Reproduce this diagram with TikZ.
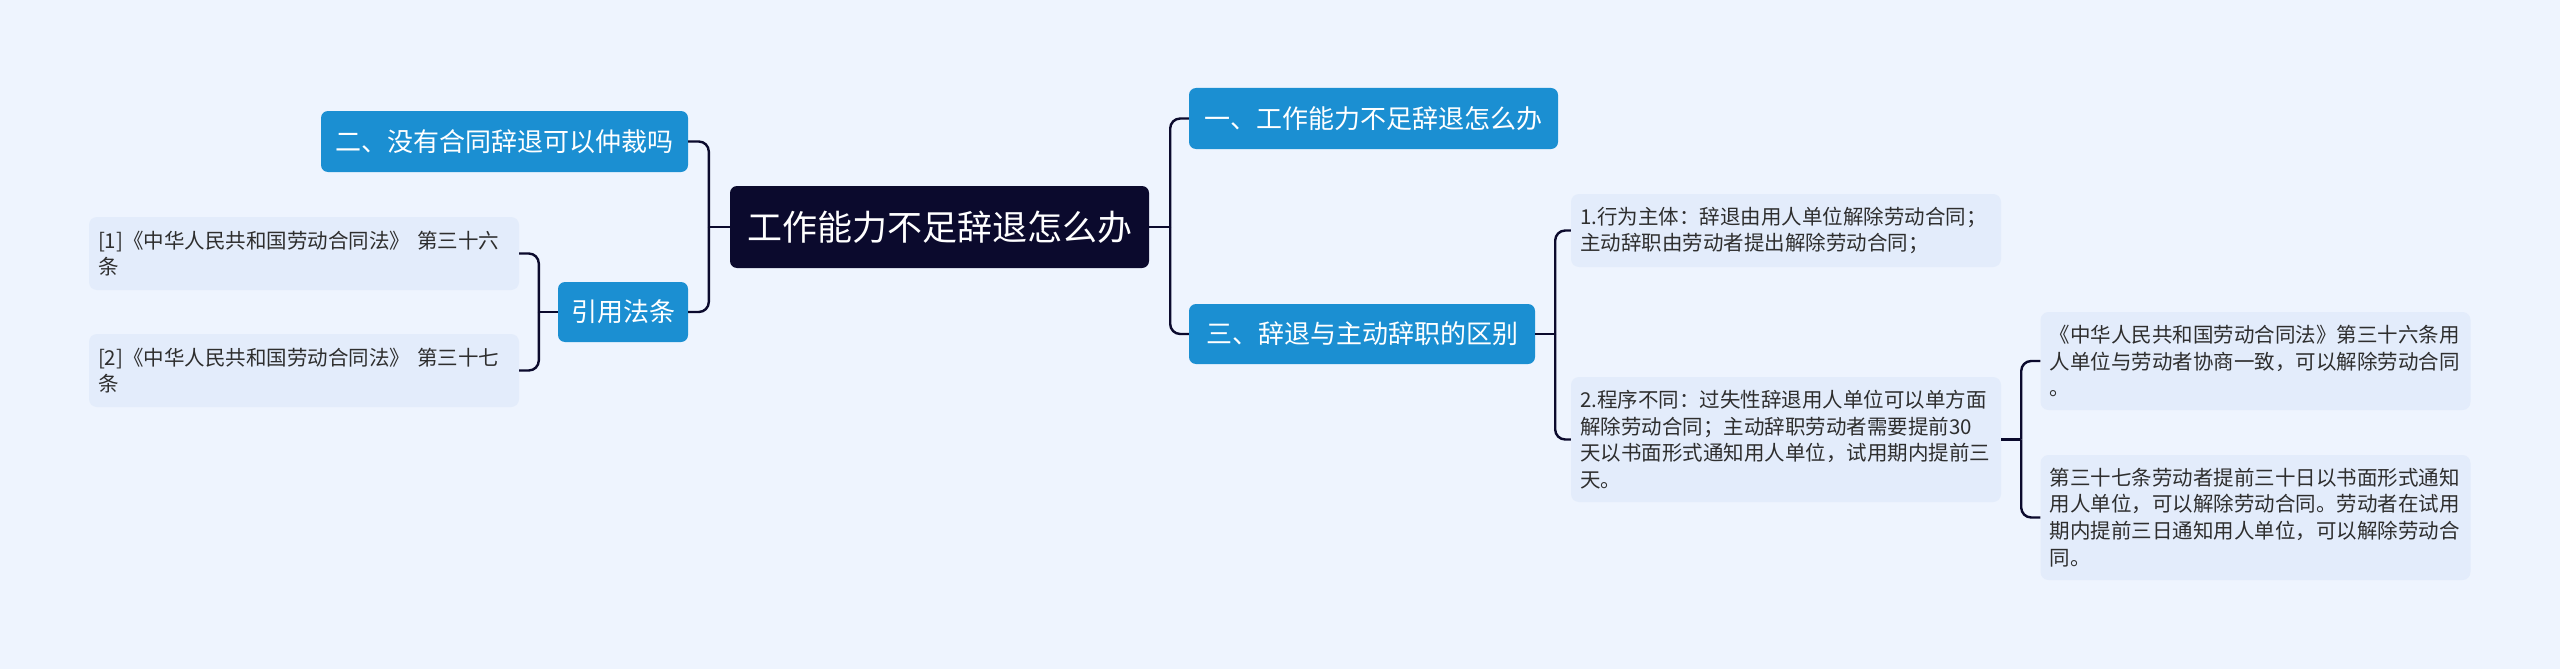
\documentclass[tikz,border=0pt]{standalone}
\usepackage{fontspec}
\setmainfont{Noto Sans CJK SC}
\definecolor{bgc}{HTML}{EEF4FE}
\definecolor{leafc}{HTML}{E3ECFB}
\definecolor{bluec}{HTML}{1B8FD2}
\definecolor{darkc}{HTML}{0B0A2D}
\definecolor{txtc}{HTML}{2E2E2E}
\tikzset{
  rootbox/.style={fill=darkc, rounded corners=7pt, text=white, inner sep=0pt,
    font=\fontsize{35}{40}\selectfont},
  bluebox/.style={fill=bluec, rounded corners=7pt, text=white, inner sep=0pt,
    font=\fontsize{26}{30}\selectfont},
  leafbox/.style={fill=leafc, rounded corners=8pt, text=txtc, inner xsep=9pt, inner ysep=0pt,
    text width=412pt, align=left, minimum width=430pt,
    font=\fontsize{20.5}{26.7}\selectfont},
  conn/.style={draw=darkc, line width=2.4pt},
  elbow/.style={draw=darkc, line width=2.4pt, rounded corners=10pt},
}
\begin{document}
\begin{tikzpicture}[x=1pt,y=-1pt]
\fill[bgc] (0,0) rectangle (2560,669);
\useasboundingbox (0,0) rectangle (2560,669);

\node[rootbox, minimum width=419pt, minimum height=82pt] (root) at (939.5,227) {工作能力不足辞退怎么办};

\node[bluebox, minimum width=367pt, minimum height=61pt] (b2) at (504.5,141.5) {二、没有合同辞退可以仲裁吗};
\node[bluebox, minimum width=130pt, minimum height=60pt] (bref) at (623,312) {引用法条};
\node[bluebox, minimum width=369pt, minimum height=61pt] (b1) at (1373.5,118.5) {一、工作能力不足辞退怎么办};
\node[bluebox, minimum width=346pt, minimum height=60pt] (b3) at (1362,334) {三、辞退与主动辞职的区别};

\node[leafbox, minimum height=73pt] (r1) at (304,253.5) {[1]《中华人民共和国劳动合同法》~第三十六\\条};
\node[leafbox, minimum height=73pt] (r2) at (304,370.5) {[2]《中华人民共和国劳动合同法》~第三十七\\条};
\node[leafbox, minimum height=73pt] (d1) at (1786,230.5) {1.行为主体：辞退由用人单位解除劳动合同；\\主动辞职由劳动者提出解除劳动合同；};
\node[leafbox, minimum height=125pt] (d2) at (1786,439.5) {2.程序不同：过失性辞退用人单位可以单方面\\解除劳动合同；主动辞职劳动者需要提前30\\天以书面形式通知用人单位，试用期内提前三\\天。};
\node[leafbox, minimum height=98pt] (l1) at (2255.5,361) {《中华人民共和国劳动合同法》第三十六条用\\人单位与劳动者协商一致，可以解除劳动合同\\。};
\node[leafbox, minimum height=125pt] (l2) at (2255.5,517.5) {第三十七条劳动者提前三十日以书面形式通知\\用人单位，可以解除劳动合同。劳动者在试用\\期内提前三日通知用人单位，可以解除劳动合\\同。};

% trunks
\coordinate (tR) at ([xshift=21pt]root.east);
\coordinate (tL) at ([xshift=-21pt]root.west);
\coordinate (tRef) at ([xshift=-19pt]bref.west);
\coordinate (t3) at ([xshift=20pt]b3.east);
\coordinate (tD2) at ([xshift=20pt]d2.east);

\draw[conn] (root.east) -- (tR);
\draw[elbow] (tR) |- (b1.west);
\draw[elbow] (tR) |- (b3.west);

\draw[conn] (root.west) -- (tL);
\draw[elbow] (tL) |- (b2.east);
\draw[elbow] (tL) |- (bref.east);

\draw[conn] (bref.west) -- (tRef);
\draw[elbow] (tRef) |- (r1.east);
\draw[elbow] (tRef) |- (r2.east);

\draw[conn] (b3.east) -- (t3);
\draw[elbow] (t3) |- (d1.west);
\draw[elbow] (t3) |- (d2.west);

\draw[conn] (d2.east) -- (tD2);
\draw[elbow] (tD2) |- (l1.west);
\draw[elbow] (tD2) |- (l2.west);
\end{tikzpicture}
\end{document}
